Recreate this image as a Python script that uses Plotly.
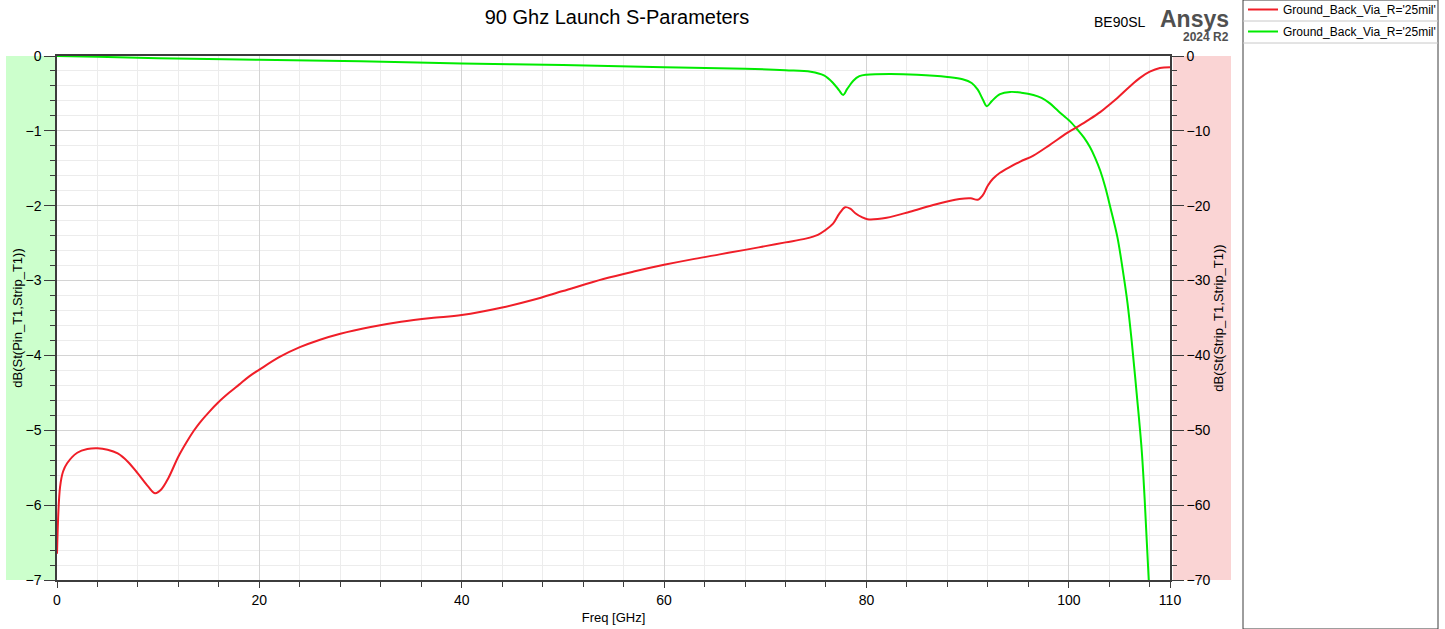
import plotly.graph_objects as go

# ---- data ----
freq_rl = [0.0, 0.3, 0.6, 1.0, 2.0, 3.0, 4.0, 5.0, 6.0, 7.0, 8.0, 9.0, 9.7, 10.3, 11.0, 12.0,
           12.8, 13.5, 14.1, 15.0, 16.0, 17.0, 18.0, 19.0, 20.0, 22.0, 24.0, 26.0, 28.0, 31.0,
           34.0, 37.0, 40.0, 44.0, 47.0, 50.0, 54.0, 57.0, 60.0, 63.0, 65.5, 68.0, 70.0, 72.0,
           74.0, 75.2, 75.9, 76.7, 77.3, 77.9, 78.4, 78.9, 79.5, 80.1, 82.0, 84.3, 86.6, 89.2,
           90.3, 91.0, 91.5, 92.0, 92.5, 93.2, 94.2, 95.2, 96.5, 98.1, 99.8, 100.8, 102.0, 103.1,
           104.0, 104.8, 106.0, 107.0, 108.0, 109.0, 110.0]
rl_db = [-66.5, -57.6, -55.5, -54.4, -53.0, -52.5, -52.4, -52.6, -53.1, -54.2, -55.8, -57.5,
         -58.4, -57.9, -56.4, -53.5, -51.6, -50.1, -49.0, -47.6, -46.2, -45.0, -43.9, -42.8,
         -41.9, -40.2, -38.9, -37.9, -37.1, -36.2, -35.5, -35.0, -34.6, -33.6, -32.6, -31.4,
         -29.8, -28.8, -27.9, -27.1, -26.5, -25.9, -25.4, -24.9, -24.4, -23.9, -23.3, -22.4,
         -21.1, -20.2, -20.4, -21.0, -21.5, -21.8, -21.6, -20.8, -19.9, -19.1, -19.0, -19.2,
         -18.6, -17.3, -16.4, -15.6, -14.8, -14.1, -13.3, -11.9, -10.3, -9.5, -8.5, -7.5, -6.5,
         -5.6, -4.1, -2.95, -2.1, -1.6, -1.5]

freq_il = [0.0, 4.0, 10.0, 20.0, 30.0, 40.0, 50.0, 60.0, 68.0, 72.0, 74.5, 75.8, 76.7, 77.3,
           77.7, 78.1, 78.7, 79.3, 80.0, 82.3, 85.0, 88.0, 89.5, 90.4, 91.0, 91.5, 91.9, 92.4,
           93.2, 94.2, 95.3, 96.5, 97.3, 98.1, 99.0, 100.1, 100.9, 101.5, 102.1, 102.6, 103.1,
           103.6, 104.1, 104.8, 105.4, 105.8, 106.2, 106.7, 107.2, 107.5, 107.9, 108.2]
il_db = [0.0, -0.01, -0.03, -0.05, -0.07, -0.10, -0.12, -0.15, -0.17, -0.19, -0.21, -0.26,
         -0.36, -0.46, -0.52, -0.44, -0.33, -0.27, -0.25, -0.24, -0.25, -0.28, -0.31, -0.36,
         -0.45, -0.58, -0.67, -0.60, -0.51, -0.48, -0.49, -0.52, -0.56, -0.63, -0.74, -0.87,
         -0.99, -1.09, -1.22, -1.36, -1.53, -1.75, -2.02, -2.42, -2.92, -3.30, -3.79, -4.5,
         -5.26, -5.93, -7.0, -7.6]

legend_names = ["Ground_Back_Via_R='25mil'", "Ground_Back_Via_R='25mil'"]
x_tickvals = [0, 20, 40, 60, 80, 100, 110]

FONT = "Arial, Liberation Sans, sans-serif"
RED = "rgb(240,30,40)"
GREEN = "rgb(0,235,0)"

fig = go.Figure()
fig.add_trace(go.Scatter(x=freq_rl, y=rl_db, mode="lines", name=legend_names[0],
                         yaxis="y2", line=dict(color=RED, width=2, shape="spline", smoothing=1.0),
                         legendgroup="a"))
fig.add_trace(go.Scatter(x=freq_il, y=il_db, mode="lines", name=legend_names[1],
                         yaxis="y", line=dict(color=GREEN, width=2, shape="spline", smoothing=1.0),
                         legendgroup="b"))

L, R, T, B = 57, 275, 56, 49
W, H = 1445, 629
pw, ph = W - L - R, H - T - B


def px(xp):
    return (xp - L) / pw


def py(yp):
    return (H - B - yp) / ph


shapes = [
    # coloured axis bands
    dict(type="rect", xref="paper", yref="paper", x0=px(6), x1=0, y0=0, y1=1,
         fillcolor="rgb(204,255,204)", line=dict(width=0), layer="below"),
    dict(type="rect", xref="paper", yref="paper", x0=px(1173), x1=px(1231), y0=0, y1=1,
         fillcolor="rgb(250,212,212)", line=dict(width=0), layer="below"),
    # legend box
    dict(type="rect", xref="paper", yref="paper", x0=px(1243), x1=px(1438), y0=py(629), y1=py(0),
         fillcolor="rgba(0,0,0,0)", line=dict(color="rgb(60,60,60)", width=1)),
    dict(type="line", xref="paper", yref="paper", x0=px(1243), x1=px(1438), y0=py(21), y1=py(21),
         line=dict(color="rgb(200,200,200)", width=1)),
    dict(type="line", xref="paper", yref="paper", x0=px(1243), x1=px(1438), y0=py(43), y1=py(43),
         line=dict(color="rgb(200,200,200)", width=1)),
]

annotations = [
    dict(text="BE90SL", xref="paper", yref="paper", x=px(1148), y=py(22), xanchor="right",
         yanchor="middle", showarrow=False, font=dict(family=FONT, size=14, color="black")),
    dict(text="<b>Ansys</b>", xref="paper", yref="paper", x=px(1231), y=py(19), xanchor="right",
         yanchor="middle", showarrow=False, font=dict(family=FONT, size=23, color="rgb(80,80,80)")),
    dict(text="<b>2024 R2</b>", xref="paper", yref="paper", x=px(1231), y=py(37), xanchor="right",
         yanchor="middle", showarrow=False, font=dict(family=FONT, size=12, color="rgb(80,80,80)")),
]

axis_common = dict(showline=True, linecolor="rgb(60,60,60)", linewidth=1.5, ticks="outside",
                   tickcolor="rgb(60,60,60)", tickfont=dict(family=FONT, size=14, color="black"),
                   zeroline=False)

fig.update_layout(
    width=W, height=H,
    margin=dict(l=L, r=R, t=T, b=B, autoexpand=False),
    paper_bgcolor="white", plot_bgcolor="white",
    title=dict(text="90 Ghz Launch S-Parameters", xref="paper", x=px(617), xanchor="center",
               yref="container", y=1 - 17 / H, yanchor="middle",
               font=dict(family=FONT, size=20, color="black")),
    xaxis=dict(range=[0, 110], tickvals=x_tickvals, ticklen=6, mirror=True,
               showgrid=True, gridcolor="rgb(212,212,212)", gridwidth=1,
               minor=dict(dtick=4, tick0=0, ticklen=5, ticks="outside", tickcolor="rgb(60,60,60)",
                          showgrid=True, gridcolor="rgb(236,236,236)"),
               title=dict(text="Freq [GHz]", font=dict(family=FONT, size=13, color="black"), standoff=6),
               **axis_common),
    yaxis=dict(range=[-7, 0], dtick=1, ticklen=11, showgrid=True, gridcolor="rgb(212,212,212)",
               minor=dict(dtick=0.2, ticklen=5, ticks="outside", tickcolor="rgb(60,60,60)",
                          showgrid=True, gridcolor="rgb(236,236,236)"),
               title=dict(text="dB(St(Pin_T1,Strip_T1))", font=dict(family=FONT, size=13, color="black"),
                          standoff=0),
               **axis_common),
    yaxis2=dict(range=[-70, 0], dtick=10, ticklen=12, overlaying="y", side="right", showgrid=False,
                minor=dict(dtick=2, ticklen=5, ticks="outside", tickcolor="rgb(60,60,60)", showgrid=False),
                title=dict(text="dB(St(Strip_T1,Strip_T1))", font=dict(family=FONT, size=13, color="black"),
                           standoff=4),
                **axis_common),
    showlegend=True,
    legend=dict(x=px(1243), y=py(-5), xanchor="left", yanchor="top", bgcolor="rgba(0,0,0,0)",
                borderwidth=0, font=dict(family=FONT, size=12, color="black"),
                tracegroupgap=3, itemwidth=30),
    shapes=shapes,
    annotations=annotations,
)

fig.write_html("out.html")
